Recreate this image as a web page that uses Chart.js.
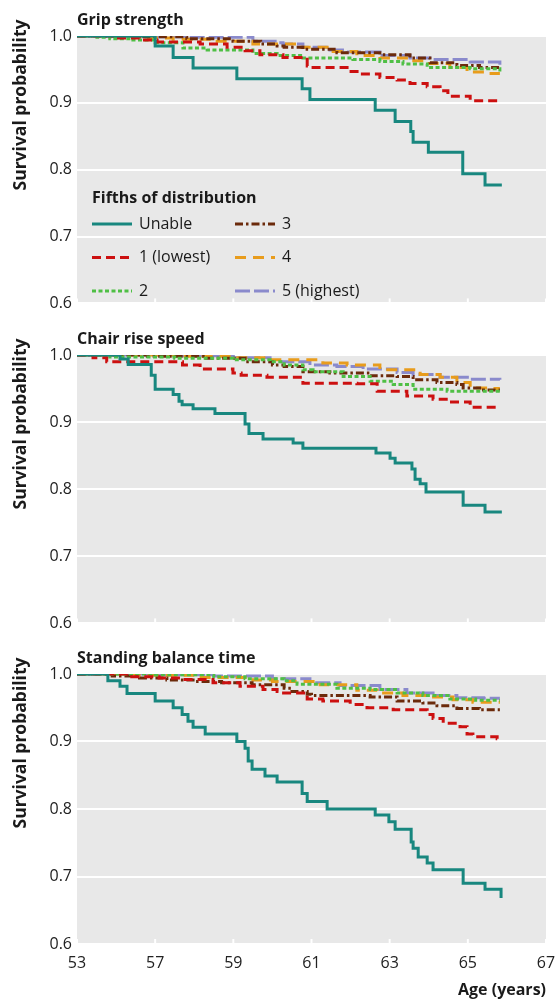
<!DOCTYPE html>
<html lang="en">
<head>
<meta charset="UTF-8">
<title>Survival probability by physical capability</title>
<script src="https://cdn.jsdelivr.net/npm/chart.js"></script>
<style>
  body { margin: 0; background: #fff; }
  .wrap { position: relative; width: 558px; height: 1003px; }
  canvas { position: absolute; left: 0; }
</style>
</head>
<body>
<div class="wrap">
  <canvas id="grip" width="558" height="318" style="top:0"></canvas>
  <canvas id="chair" width="558" height="320" style="top:318px"></canvas>
  <canvas id="balance" width="558" height="365" style="top:638px"></canvas>
</div>
<script>
// ---- data (age, survival probability) ----
const seriesLabels = ['Unable', '1 (lowest)', '2', '3', '4', '5 (highest)'];
const xTickValues = [55, 57, 59, 61, 63, 65, 67];
const xTickLabels = ['53', '57', '59', '61', '63', '65', '67'];
const yTicks = [0.6, 0.7, 0.8, 0.9, 1.0];

// Grip strength
const gripUnable = [[55,1],[57.0,0.985],[57.46,0.968],[57.97,0.952],[59.09,0.936],[60.76,0.921],[60.96,0.905],[62.63,0.889],[63.14,0.872],[63.54,0.857],[63.6,0.841],[63.99,0.826],[64.87,0.794],[65.44,0.777],[65.87,0.777]];
const gripQ1 = [[55,1],[55.9,0.997],[56.6,0.994],[57.05,0.991],[58.15,0.988],[58.84,0.983],[59.3,0.978],[59.68,0.972],[60.27,0.968],[60.89,0.955],[61.0,0.953],[61.91,0.947],[62.24,0.943],[62.75,0.938],[63.19,0.934],[63.52,0.929],[63.96,0.924],[64.29,0.918],[64.49,0.910],[65.06,0.903],[65.87,0.903]];
const gripQ2 = [[55,1],[55.51,0.998],[55.84,0.996],[56.43,0.994],[57.0,0.990],[57.71,0.982],[58.33,0.979],[59.5,0.974],[60.12,0.971],[60.78,0.967],[62.06,0.965],[62.75,0.962],[63.34,0.958],[63.96,0.953],[65.06,0.951],[65.82,0.947]];
const gripQ3 = [[55,1],[56.43,0.999],[57.81,0.996],[58.99,0.992],[59.7,0.988],[60.12,0.985],[60.3,0.983],[60.78,0.980],[61.65,0.975],[62.75,0.972],[63.52,0.967],[64.03,0.960],[64.72,0.956],[65.3,0.953],[65.82,0.953]];
const gripQ4 = [[55,1],[56.69,0.997],[57.46,0.995],[58.48,0.992],[59.5,0.988],[60.63,0.983],[61.4,0.977],[62.16,0.971],[62.75,0.967],[63.52,0.963],[63.96,0.959],[64.54,0.953],[64.98,0.946],[65.5,0.944],[65.82,0.944]];
const gripQ5 = [[55,1],[56.94,0.999],[57.81,0.998],[59.5,0.992],[60.12,0.990],[60.27,0.988],[60.78,0.983],[61.47,0.979],[61.91,0.976],[62.75,0.971],[63.52,0.967],[64.03,0.965],[65.06,0.961],[65.82,0.957]];

// Chair rise speed
const chairUnable = [[55,1],[56.10,0.994],[56.31,0.986],[56.9,0.970],[57.0,0.949],[57.46,0.941],[57.61,0.931],[57.69,0.926],[57.97,0.920],[58.53,0.913],[59.3,0.897],[59.4,0.883],[59.76,0.875],[60.53,0.869],[60.78,0.861],[62.65,0.854],[63.01,0.846],[63.14,0.839],[63.57,0.830],[63.65,0.815],[63.78,0.808],[63.93,0.796],[64.88,0.776],[65.44,0.766],[65.87,0.766]];
const chairQ1 = [[55,1],[55.41,0.996],[55.76,0.990],[57.7,0.985],[58.15,0.979],[58.99,0.973],[59.2,0.970],[59.86,0.967],[60.78,0.958],[62.16,0.957],[62.68,0.946],[63.44,0.939],[64.11,0.934],[64.54,0.930],[65.06,0.922],[65.82,0.922]];
const chairQ2 = [[55,1],[55.84,0.997],[57.5,0.995],[59.0,0.993],[59.94,0.990],[60.3,0.985],[60.78,0.978],[61.04,0.975],[61.81,0.968],[62.5,0.961],[63.09,0.956],[63.6,0.949],[64.47,0.946],[65.82,0.946]];
const chairQ3 = [[55,1],[56.8,0.998],[58.3,0.995],[59.3,0.990],[60.0,0.985],[60.3,0.983],[60.78,0.975],[61.47,0.973],[62.5,0.969],[63.19,0.968],[63.6,0.963],[64.21,0.959],[64.72,0.956],[64.88,0.951],[65.4,0.948],[65.82,0.948]];
const chairQ4 = [[55,1],[57.5,0.998],[59.0,0.996],[59.94,0.993],[61.29,0.988],[61.91,0.985],[62.75,0.978],[63.78,0.971],[64.29,0.967],[64.72,0.959],[65.06,0.951],[65.5,0.950],[65.82,0.950]];
const chairQ5 = [[55,1],[57.5,0.999],[59.0,0.996],[59.94,0.990],[60.96,0.985],[61.65,0.983],[62.32,0.979],[63.19,0.974],[63.6,0.971],[64.29,0.967],[65.06,0.964],[65.82,0.963]];

// Standing balance time
const balanceUnable = [[55,1],[55.79,0.990],[56.10,0.982],[56.28,0.971],[57.0,0.960],[57.46,0.950],[57.69,0.940],[57.84,0.930],[57.97,0.921],[58.28,0.911],[59.09,0.900],[59.30,0.890],[59.38,0.871],[59.48,0.859],[59.81,0.849],[60.12,0.840],[60.76,0.823],[60.89,0.811],[61.40,0.800],[62.63,0.791],[62.98,0.781],[63.14,0.770],[63.55,0.751],[63.60,0.742],[63.73,0.729],[63.96,0.720],[64.11,0.710],[64.88,0.690],[65.44,0.681],[65.85,0.668]];
const balanceQ1 = [[55,1],[56.3,0.996],[57.1,0.994],[57.7,0.992],[58.48,0.987],[59.17,0.982],[59.76,0.977],[60.12,0.974],[60.2,0.972],[60.89,0.963],[61.29,0.960],[61.99,0.955],[62.42,0.950],[63.09,0.947],[63.96,0.940],[64.11,0.934],[64.37,0.927],[64.80,0.922],[64.98,0.911],[65.13,0.907],[65.75,0.904],[65.82,0.904]];
const balanceQ2 = [[55,1],[57.0,0.999],[58.5,0.996],[59.3,0.993],[60.3,0.990],[60.63,0.985],[61.65,0.979],[62.5,0.977],[63.19,0.972],[63.85,0.968],[64.54,0.963],[65.2,0.961],[65.82,0.961]];
const balanceQ3 = [[55,1],[55.9,0.997],[56.6,0.994],[57.3,0.991],[57.97,0.989],[58.7,0.987],[59.48,0.984],[60.3,0.979],[60.5,0.974],[60.89,0.970],[61.0,0.968],[62.5,0.966],[63.19,0.960],[63.85,0.957],[64.21,0.953],[64.72,0.949],[65.3,0.947],[65.82,0.947]];
const balanceQ4 = [[55,1],[56.5,0.998],[58.0,0.995],[59.5,0.991],[60.0,0.989],[61.22,0.984],[62.16,0.976],[62.68,0.972],[63.34,0.968],[64.03,0.966],[64.62,0.962],[65.13,0.958],[65.82,0.958]];
const balanceQ5 = [[55,1],[57.0,0.999],[58.5,0.997],[60.0,0.993],[60.96,0.987],[61.73,0.983],[62.75,0.977],[63.44,0.972],[64.11,0.968],[64.72,0.965],[65.4,0.964],[65.82,0.964]];

// ---- styles ----
const FONT = '"Open Sans", sans-serif';
const TEXT = '#1a1a1a';
const lineStyles = [
  { color: '#18877f', dash: [] },
  { color: '#cc1010', dash: [9, 5] },
  { color: '#4fbf45', dash: [4, 2.5] },
  { color: '#6b2a0b', dash: [8, 3, 2.5, 3] },
  { color: '#e89c1c', dash: [11, 7] },
  { color: '#8a8acc', dash: [15, 4] }
];

Chart.defaults.font.family = FONT;
Chart.defaults.font.size = 16;
Chart.defaults.color = '#222';

const deco = {
  id: 'deco',
  beforeDraw(chart) {
    const { ctx, chartArea: a } = chart;
    ctx.save();
    ctx.fillStyle = '#e8e8e8';
    ctx.fillRect(a.left, a.top, a.right - a.left, a.bottom - a.top);
    ctx.restore();
  },
  beforeDatasetsDraw(chart) {
    // short white ticks inside the bottom of the panel
    const { ctx, chartArea: a, scales: { x } } = chart;
    ctx.save();
    ctx.strokeStyle = '#fff';
    ctx.lineWidth = 2;
    xTickValues.forEach(v => {
      const px = x.getPixelForValue(v);
      ctx.beginPath();
      ctx.moveTo(px, a.bottom);
      ctx.lineTo(px, a.bottom - 5);
      ctx.stroke();
    });
    ctx.restore();
  },
  afterDraw(chart, args, o) {
    const { ctx, chartArea: a } = chart;
    ctx.save();
    ctx.fillStyle = TEXT;
    ctx.textAlign = 'left';
    ctx.textBaseline = 'alphabetic';
    ctx.font = 'bold 16px ' + FONT;
    ctx.fillText(o.title, a.left, a.top - 11);

    // y axis title
    ctx.save();
    ctx.translate(26, a.top + 69);
    ctx.rotate(-Math.PI / 2);
    ctx.textAlign = 'center';
    ctx.font = 'bold 17.5px ' + FONT;
    ctx.fillText('Survival probability', 0, 0);
    ctx.restore();

    if (o.legend) {
      const L = a.left + 15, T = a.top + 162;
      ctx.textBaseline = 'middle';
      ctx.fillText('Fifths of distribution', L, T);
      chart.data.datasets.forEach((ds, i) => {
        const col = Math.floor(i / 3), row = i % 3;
        const x0 = L + col * 143, y0 = T + 26 + row * 33.5;
        ctx.save();
        ctx.strokeStyle = ds.borderColor;
        ctx.lineWidth = ds.borderWidth;
        ctx.setLineDash(ds.borderDash);
        ctx.beginPath();
        ctx.moveTo(x0, y0);
        ctx.lineTo(x0 + 40, y0);
        ctx.stroke();
        ctx.restore();
        ctx.font = '16px ' + FONT;
        ctx.fillText(ds.label, x0 + 47, y0);
      });
    }
    ctx.restore();
  }
};

function makePanel(id, title, series, opts) {
  const datasets = series.map((s, i) => ({
    label: seriesLabels[i],
    data: s.map(p => ({ x: p[0], y: p[1] })),
    borderColor: lineStyles[i].color,
    borderDash: lineStyles[i].dash,
    borderWidth: 3,
    stepped: true,
    pointRadius: 0,
    fill: false
  }));

  new Chart(document.getElementById(id), {
    type: 'line',
    data: { datasets },
    plugins: [deco],
    options: {
      responsive: false,
      animation: false,
      layout: {
        autoPadding: false,
        padding: { top: opts.top, bottom: opts.bottom, left: 0, right: 12 }
      },
      plugins: {
        legend: { display: false },
        tooltip: { enabled: false },
        deco: { title: title, legend: opts.legend }
      },
      scales: {
        x: {
          type: 'linear',
          min: 55,
          max: 67,
          display: opts.showX,
          afterBuildTicks: s => { s.ticks = xTickValues.map(v => ({ value: v })); },
          afterFit: s => { s.height = opts.showX ? 59 : 0; },
          grid: { display: false },
          border: { display: false },
          ticks: {
            padding: 2,
            maxRotation: 0,
            callback: v => xTickLabels[xTickValues.indexOf(v)]
          },
          title: {
            display: true,
            text: 'Age (years)',
            align: 'end',
            color: TEXT,
            font: { weight: 'bold', size: 16 },
            padding: { top: 2, bottom: 3 }
          }
        },
        y: {
          min: 0.6,
          max: 1.0,
          afterBuildTicks: s => { s.ticks = yTicks.map(v => ({ value: v })); },
          afterFit: s => { s.width = 77; },
          grid: { color: '#fff', lineWidth: 2, drawTicks: false },
          border: { display: false },
          ticks: { padding: 5, callback: v => v.toFixed(1) }
        }
      }
    }
  });
}

makePanel('grip', 'Grip strength',
  [gripUnable, gripQ1, gripQ2, gripQ3, gripQ4, gripQ5],
  { top: 36, bottom: 13, legend: true, showX: false });
makePanel('chair', 'Chair rise speed',
  [chairUnable, chairQ1, chairQ2, chairQ3, chairQ4, chairQ5],
  { top: 37, bottom: 12, legend: false, showX: false });
makePanel('balance', 'Standing balance time',
  [balanceUnable, balanceQ1, balanceQ2, balanceQ3, balanceQ4, balanceQ5],
  { top: 36, bottom: 0, legend: false, showX: true });
</script>
</body>
</html>
